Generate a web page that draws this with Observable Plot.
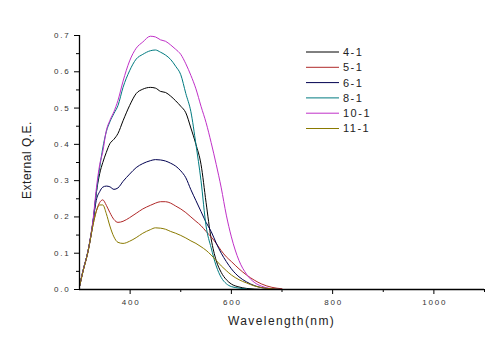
<!DOCTYPE html>
<html><head><meta charset="utf-8">
<script src="https://cdn.jsdelivr.net/npm/d3@7"></script>
<script src="https://cdn.jsdelivr.net/npm/@observablehq/plot@0.6"></script>
<style>body{margin:0;background:#fff}</style>
</head><body><div id="chart"></div>
<script>
const wavelengths = [300,307,317,327,333,340,346,353,360,368,376,386,399,412,425,440,450,460,470,480,490,500,510,520,530,540,550,560,570,580,590,600,615,630,645,660,680,700];
const series = ["4-1","5-1","6-1","8-1","10-1","11-1"];
const colors = ["#000000","#b02828","#000050","#007a80","#c030c8","#8a7a00"];
const qe41 = [0.008,0.052,0.107,0.19,0.264,0.32,0.35,0.378,0.402,0.414,0.43,0.465,0.507,0.54,0.552,0.557,0.555,0.546,0.543,0.533,0.52,0.505,0.487,0.445,0.40,0.345,0.24,0.14,0.08,0.047,0.027,0.015,0.007,0.003,0.001,0,0,0];
const qe51 = [0.008,0.05,0.105,0.18,0.215,0.24,0.247,0.232,0.212,0.193,0.185,0.188,0.198,0.21,0.222,0.232,0.238,0.242,0.242,0.238,0.23,0.222,0.212,0.2,0.188,0.176,0.16,0.145,0.127,0.107,0.09,0.077,0.057,0.04,0.026,0.015,0.006,0.002];
const qe61 = [0.008,0.052,0.107,0.19,0.245,0.27,0.282,0.285,0.283,0.276,0.28,0.298,0.318,0.336,0.347,0.355,0.358,0.357,0.354,0.348,0.34,0.327,0.308,0.275,0.245,0.215,0.185,0.16,0.128,0.1,0.077,0.057,0.035,0.021,0.011,0.005,0.002,0];
const qe81 = [0.008,0.052,0.107,0.19,0.264,0.337,0.39,0.435,0.462,0.485,0.507,0.557,0.603,0.635,0.648,0.658,0.66,0.654,0.646,0.634,0.615,0.592,0.54,0.49,0.40,0.30,0.175,0.115,0.065,0.033,0.016,0.008,0.004,0.001,0,0,0,0];
const qe101 = [0.008,0.052,0.107,0.195,0.275,0.345,0.38,0.438,0.466,0.49,0.521,0.574,0.63,0.665,0.682,0.698,0.696,0.688,0.684,0.674,0.662,0.648,0.622,0.59,0.553,0.505,0.46,0.405,0.345,0.28,0.205,0.145,0.08,0.042,0.02,0.009,0.002,0];
const qe111 = [0.008,0.05,0.105,0.18,0.215,0.233,0.233,0.209,0.175,0.145,0.13,0.127,0.133,0.143,0.155,0.165,0.17,0.169,0.166,0.16,0.155,0.149,0.142,0.134,0.127,0.118,0.108,0.095,0.08,0.065,0.052,0.04,0.027,0.018,0.01,0.005,0.002,0];
const xTicks = [400,600,800,1000];
const xMinor = [500,700,900,1100];
const yTicks = [0,0.1,0.2,0.3,0.4,0.5,0.6,0.7];
const yMinor = [0.05,0.15,0.25,0.35,0.45,0.55,0.65];

const valuesBy = {"4-1":qe41,"5-1":qe51,"6-1":qe61,"8-1":qe81,"10-1":qe101,"11-1":qe111};
const rows = series.flatMap(s => wavelengths.map((w,i) => ({series:s, wl:w, qe:valuesBy[s][i]})));

const chart = Plot.plot({
  width: 495, height: 361,
  marginLeft: 79, marginRight: 11, marginTop: 35, marginBottom: 72,
  style: {fontFamily: "'Liberation Sans', Arial, sans-serif", background: "#fff", color: "#000"},
  x: {domain: [300, 1100]},
  y: {domain: [0, 0.7]},
  color: {domain: series, range: colors},
  marks: [
    Plot.lineY(rows, {x: "wl", y: "qe", z: "series", stroke: "series", strokeWidth: 1, curve: "monotone-x"}),
    Plot.ruleY([0], {stroke: "#000", strokeWidth: 1.3}),
    Plot.ruleX([300], {stroke: "#000", strokeWidth: 1.3}),
    Plot.axisX({ticks: xTicks, tickSize: 5, tickPadding: 5, tickFormat: d => String(d), label: null, fontSize: 8, fill: "#333"}),
    Plot.axisX({ticks: xMinor, tickSize: 3, text: null, label: null}),
    Plot.axisY({ticks: yTicks, tickSize: 5, tickPadding: 4, tickFormat: d => d.toFixed(1), label: null, fontSize: 8, fill: "#333"}),
    Plot.axisY({ticks: yMinor, tickSize: 3, text: null, label: null})
  ]
});
document.getElementById("chart").appendChild(chart);
const svg = d3.select(chart);
svg.selectAll("g[aria-label='x-axis tick label'] text, g[aria-label='y-axis tick label'] text").attr("letter-spacing", "1.8");
svg.selectAll("g[aria-label='x-axis tick label'] text").attr("dx", 0.9);

svg.append("text").attr("transform", "translate(31,160) rotate(-90)")
  .attr("text-anchor", "middle").attr("font-size", 12).attr("letter-spacing", 0.5).attr("fill", "#222")
  .text("External Q.E.");
svg.append("text").attr("x", 228).attr("y", 325).attr("text-anchor", "start")
  .attr("font-size", 12).attr("letter-spacing", 1.4).attr("fill", "#222")
  .text("Wavelength(nm)");

const lg = svg.append("g");
series.forEach((s, i) => {
  const y = 52 + i * 15.3;
  lg.append("line").attr("x1", 306).attr("x2", 339).attr("y1", y).attr("y2", y).attr("stroke", colors[i]).attr("stroke-width", 1);
  lg.append("text").attr("x", 343).attr("y", y).attr("dy", "0.36em").attr("text-anchor", "start").attr("font-size", 11).attr("letter-spacing", 1.5).attr("fill", "#222").text(s);
});
</script></body></html>
